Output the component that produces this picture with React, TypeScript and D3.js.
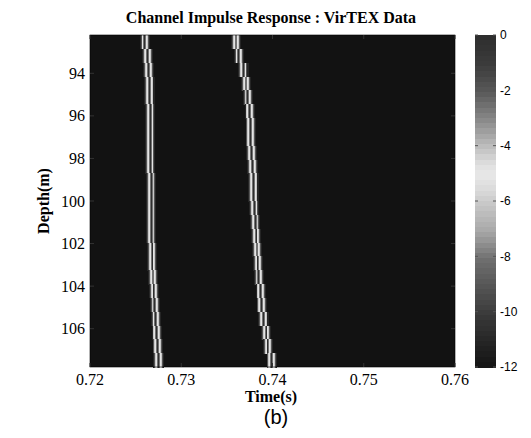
import React from "react"
import * as d3 from "d3"

// depth rows (m), row centres of the image
const depths = [92.53, 93.18, 93.83, 94.48, 95.13, 95.78, 96.43, 97.08, 97.73, 98.38, 99.03, 99.68,
    100.33, 100.98, 101.63, 102.28, 102.93, 103.58, 104.23, 104.88, 105.53, 106.18, 106.83, 107.48]

// arrival time (s) of the two paths at each depth row
const path1Times = [0.72603, 0.72628, 0.72639, 0.72647, 0.72654, 0.72658, 0.72658, 0.72658, 0.72658, 0.72658,
    0.72665, 0.72665, 0.72665, 0.72665, 0.72665, 0.72676, 0.72676, 0.72694, 0.72701, 0.72712,
    0.72723, 0.72734, 0.72742, 0.72753]
const path2Times = [0.73600, 0.73633, 0.73680, 0.73706, 0.73735, 0.73750, 0.73757, 0.73764, 0.73772, 0.73779,
    0.73786, 0.73794, 0.73801, 0.73808, 0.73816, 0.73827, 0.73838, 0.73852, 0.73866, 0.73882,
    0.73904, 0.73926, 0.73948, 0.73992]

// pulse level (dB) of the samples around each arrival
const pulseDb = [-11, -9, -6, -4.8, -2.5, 0, -2.5, -4.8, -6, -9, -11]
const sampleStep = 0.0001

const xTicks = [0.72, 0.73, 0.74, 0.75, 0.76]
const yTicks = [94, 96, 98, 100, 102, 104, 106]
const cbarTicks = [0, -2, -4, -6, -8, -10, -12]

// colormap
const cmapDb = [0, -1, -2, -3, -4, -4.6, -5, -5.5, -6, -7, -8, -9, -10, -11, -12]
const cmapGray = ["#2e2e2e", "#3c3c3c", "#5a5a5a", "#8a8a8a", "#c0c0c0", "#e0e0e0", "#e8e8e8", "#dadada",
    "#c8c8c8", "#a8a8a8", "#707070", "#555555", "#3a3a3a", "#252525", "#121212"]

const W = 531
const H = 438
const plot = { left: 90, right: 455, top: 35, bottom: 367 }
const cbar = { left: 475, right: 496 }

export default function App() {
    const x = d3.scaleLinear().domain([0.72, 0.76]).range([plot.left, plot.right])
    const y = d3.scaleLinear().domain([92.2, 107.8]).range([plot.top, plot.bottom])
    const color = d3.scaleLinear<string>().domain(cmapDb).range(cmapGray).clamp(true)
    const cy = d3.scaleLinear().domain([0, -12]).range([plot.top, plot.bottom])

    const rowH = y(depths[1]) - y(depths[0])
    const cells: { x: number, y: number, w: number, fill: string }[] = []
    depths.forEach((d, i) => {
        [path1Times[i], path2Times[i]].forEach(t => {
            const t0 = Math.round(t / sampleStep) * sampleStep
            pulseDb.forEach((db, k) => {
                const tc = t0 + (k - (pulseDb.length - 1) / 2) * sampleStep
                const x0 = x(tc - sampleStep / 2)
                const x1 = x(tc + sampleStep / 2)
                cells.push({ x: x0, y: y(d) - rowH / 2, w: x1 - x0, fill: color(db) })
            })
        })
    })

    const levels = d3.range(64).map(i => -12 * i / 64)
    const levelH = (plot.bottom - plot.top) / 64

    return (
        <svg width={W} height={H} style={{ position: "absolute", left: 0, top: 0, background: "#fff" }}>
            <text x={271} y={23} textAnchor="middle" fontFamily="'Liberation Serif', serif"
                fontWeight="bold" fontSize={16}>Channel Impulse Response : VirTEX Data</text>

            <rect x={plot.left} y={plot.top} width={plot.right - plot.left} height={plot.bottom - plot.top}
                fill={color(-12)} />
            <g shapeRendering="crispEdges">
                {cells.map((c, i) => (
                    <rect key={i} x={c.x} y={c.y} width={c.w + 0.2} height={rowH + 0.5} fill={c.fill} />
                ))}
            </g>
            <rect x={plot.left} y={plot.top} width={plot.right - plot.left} height={plot.bottom - plot.top}
                fill="none" stroke="#000" strokeWidth={0.6} />

            {xTicks.map(t => (
                <g key={t}>
                    <line x1={x(t)} x2={x(t)} y1={plot.bottom} y2={plot.bottom - 4} stroke="#333" />
                    <line x1={x(t)} x2={x(t)} y1={plot.top} y2={plot.top + 4} stroke="#333" />
                    <text x={x(t)} y={385} textAnchor="middle" fontFamily="'Liberation Serif', serif"
                        fontSize={16}>{t.toFixed(2)}</text>
                </g>
            ))}
            {yTicks.map(t => (
                <g key={t}>
                    <line x1={plot.left} x2={plot.left + 4} y1={y(t)} y2={y(t)} stroke="#333" />
                    <line x1={plot.right} x2={plot.right - 4} y1={y(t)} y2={y(t)} stroke="#333" />
                    <text x={85} y={y(t)} dy="0.35em" textAnchor="end" fontFamily="'Liberation Serif', serif"
                        fontSize={16}>{t}</text>
                </g>
            ))}

            <text x={271} y={402} textAnchor="middle" fontFamily="'Liberation Serif', serif"
                fontWeight="bold" fontSize={16}>Time(s)</text>
            <text transform={`translate(49,${(plot.top + plot.bottom) / 2}) rotate(-90)`} textAnchor="middle"
                fontFamily="'Liberation Serif', serif" fontWeight="bold" fontSize={16}>Depth(m)</text>

            <g shapeRendering="crispEdges">
                {levels.map((v, i) => (
                    <rect key={i} x={cbar.left} y={plot.top + i * levelH} width={cbar.right - cbar.left}
                        height={levelH + 0.5} fill={color(v)} />
                ))}
            </g>
            {cbarTicks.map(t => (
                <g key={t}>
                    <line x1={cbar.left} x2={cbar.left + 3} y1={cy(t)} y2={cy(t)} stroke="#555" />
                    <line x1={cbar.right} x2={cbar.right - 3} y1={cy(t)} y2={cy(t)} stroke="#555" />
                    <text x={cbar.right + 4} y={cy(t)} dy="0.35em" fontFamily="'Liberation Sans', Arial, sans-serif"
                        fontSize={12}>{t}</text>
                </g>
            ))}

            <text x={276} y={424} textAnchor="middle" fontFamily="'Liberation Sans', Arial, sans-serif"
                fontSize={20}>(b)</text>
        </svg>
    )
}
